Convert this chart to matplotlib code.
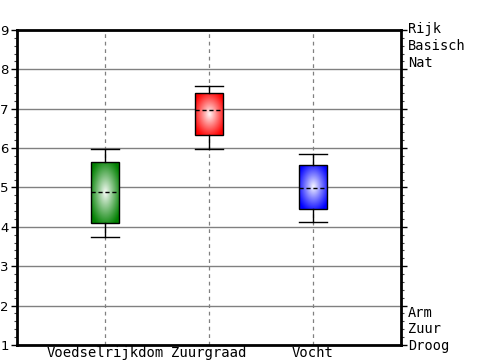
import numpy as np
import matplotlib
matplotlib.use("Agg")
import matplotlib.pyplot as plt
from matplotlib.ticker import MultipleLocator
from matplotlib.colors import to_rgb

# data
categories = ["Voedselrijkdom", "Zuurgraad", "Vocht"]
whis_low = [3.74, 5.98, 4.12]
q1 = [4.11, 6.33, 4.45]
median = [4.88, 6.97, 4.98]
q3 = [5.65, 7.39, 5.57]
whis_high = [5.98, 7.58, 5.86]
colors = ["#008000", "#ff0000", "#0000ff"]
top_labels = ["Rijk", "Basisch", "Nat"]
bottom_labels = ["Arm", "Zuur", "Droog"]

box_w = 0.27

fig = plt.figure(figsize=(5, 3.6), dpi=100)
ax = fig.add_axes([0.034, 0.0417, 0.768, 0.875])

stats = []
for i in range(len(categories)):
    stats.append({"whislo": whis_low[i], "q1": q1[i], "med": median[i],
                  "q3": q3[i], "whishi": whis_high[i], "label": categories[i]})

pos = np.arange(1, len(categories) + 1)
bp = ax.bxp(stats, positions=pos, widths=box_w, capwidths=box_w,
            showfliers=False, patch_artist=True,
            boxprops=dict(facecolor="none", edgecolor="black", linewidth=1),
            whiskerprops=dict(color="black", linewidth=1),
            capprops=dict(color="black", linewidth=1),
            medianprops=dict(color="black", linewidth=1, linestyle=(0, (3, 2))),
            zorder=3)

# radial gradient fill inside each box
n = 120
u, v = np.meshgrid(np.linspace(-1, 1, n), np.linspace(-1, 1, n))
t = np.clip(np.sqrt(u ** 2 + v ** 2) / 1.2, 0, 1)
mix = (1 - t) ** 1.1 * 0.97
for i, patch in enumerate(bp["boxes"]):
    base = np.array(to_rgb(colors[i]))
    img = base[None, None, :] * (1 - mix[..., None]) + mix[..., None]
    x0 = pos[i] - box_w / 2
    im = ax.imshow(img, extent=(x0, x0 + box_w, q1[i], q3[i]),
                   aspect="auto", origin="lower", zorder=2,
                   interpolation="bilinear")
    im.set_clip_path(patch)

ax.set_xlim(0.154, 3.846)
ax.set_ylim(1, 9)
ax.set_xticks(pos)
ax.set_xticklabels(categories, family="DejaVu Sans Mono", fontsize=10)
ax.yaxis.set_major_locator(MultipleLocator(1))
ax.yaxis.set_minor_locator(MultipleLocator(0.2))

ax.grid(axis="y", color="#808080", linewidth=1, linestyle="-")
ax.grid(axis="x", color="#808080", linewidth=0.9, linestyle=(0, (3, 3)))
ax.set_axisbelow(True)

ax.tick_params(axis="x", length=0, pad=1)
ax.tick_params(axis="y", which="major", direction="out", length=4, width=1,
               labelsize=9.5, pad=2, right=True)
ax.tick_params(axis="y", which="minor", direction="out", length=2,
               width=0.8, right=True, color="#444444")

for s in ax.spines.values():
    s.set_linewidth(2)
    s.set_color("black")

tr = ax.get_yaxis_transform()
for lab, y in zip(top_labels, [9.03, 8.59, 8.16]):
    ax.text(1.018, y, lab, transform=tr, family="DejaVu Sans Mono",
            fontsize=9.8, va="center", ha="left")
for lab, y in zip(bottom_labels, [1.82, 1.41, 0.97]):
    ax.text(1.018, y, lab, transform=tr, family="DejaVu Sans Mono",
            fontsize=9.8, va="center", ha="left")

fig.savefig("out.png", dpi=100)
